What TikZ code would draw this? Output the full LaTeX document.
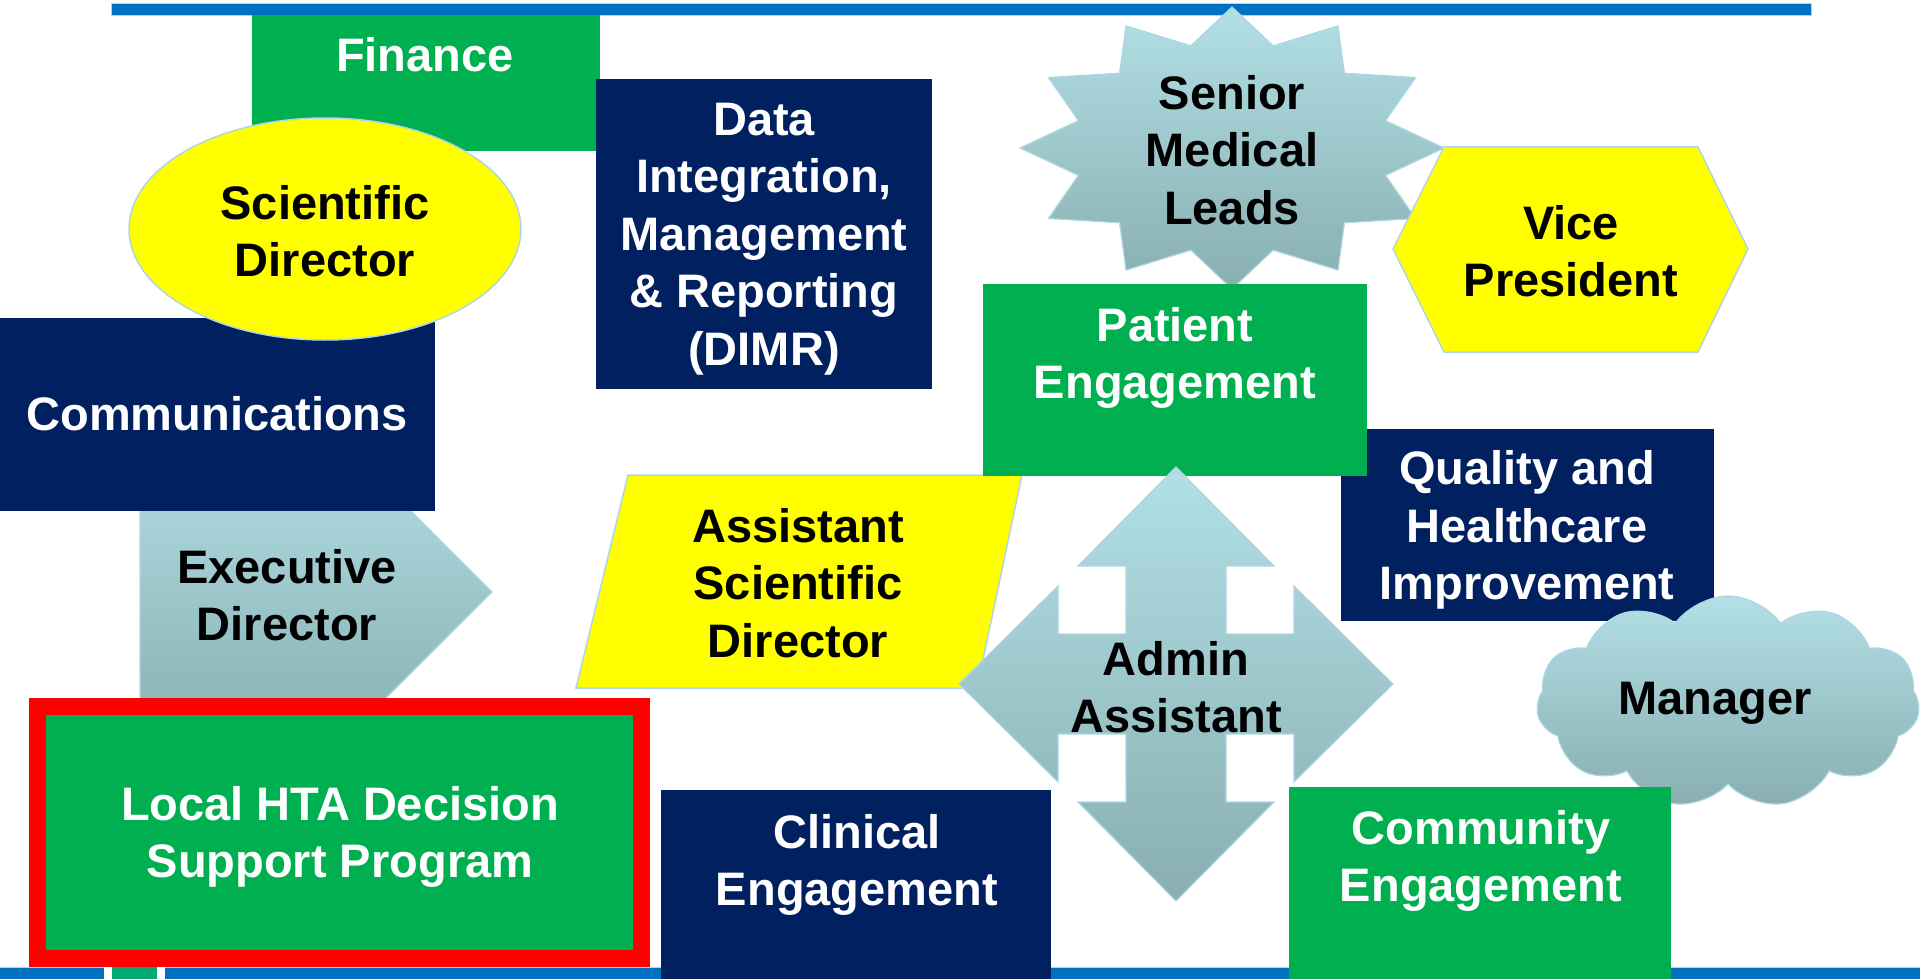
\documentclass[tikz,border=0pt]{standalone}
\usepackage{fontspec}
\setmainfont{Liberation Sans}
\usetikzlibrary{shapes.geometric,shapes.symbols}
\definecolor{cgreen}{RGB}{0,176,80}
\definecolor{cnavy}{RGB}{0,32,96}
\definecolor{cyellow}{RGB}{255,255,0}
\definecolor{cblue}{RGB}{0,112,192}
\definecolor{cedge}{RGB}{176,214,228}
\definecolor{gtop}{RGB}{178,224,230}
\definecolor{gbot}{RGB}{136,174,176}
\definecolor{cred}{RGB}{255,0,0}
\definecolor{clogo}{RGB}{0,170,110}
\begin{document}
\begin{tikzpicture}[x=1pt,y=-1pt,
  lbl/.style={font=\bfseries\fontsize{47}{57.5}\selectfont, align=center, inner sep=0pt},
  wlbl/.style={lbl,text=white},
  klbl/.style={lbl,text=black},
  gbox/.style={fill=cgreen,inner sep=0pt,anchor=north west},
  nbox/.style={fill=cnavy,inner sep=0pt,anchor=north west},
  ybox/.style={fill=cyellow,draw=cedge,line width=1.5pt},
  grad/.style={top color=gtop,bottom color=gbot,draw=cedge,line width=1.2pt},
  bar/.style={fill=cblue,draw=cedge,line width=0.8pt},
]
\useasboundingbox (0,0) rectangle (1920,979);

% top and bottom rules
\path[bar] (111,3) rectangle (1811,15);
\path[bar] (-2,967) rectangle (1922,981);
\fill[white] (104,967) rectangle (165,979);
\fill[clogo] (112,967) rectangle (157,979);

% Finance
\node[gbox,minimum width=348,minimum height=136] (fin) at (252,15) {};
\node[wlbl] (finL) at (425,55) {Finance};

% Data Integration
\node[nbox,minimum width=336,minimum height=310] (dimr) at (596,79) {};
\node[wlbl] (dimrL) at (764,239) {Data\\Integration,\\Management\\\& Reporting\\(DIMR)};

% Executive Director (home plate)
\path[grad] (140,430) -- (330,430) -- (492,592) -- (330,754) -- (140,754) -- cycle;
\node[klbl] (exec) at (287,595) {Executive\\Director};

% Communications
\node[nbox,minimum width=435,minimum height=193] (comm) at (0,318) {};
\node[wlbl] (commL) at (217,414) {Communications};

% Scientific Director
\node[ellipse,ybox,minimum width=392,minimum height=222,inner sep=0pt] (sci) at (325,229) {};
\node[klbl] (sciL) at (325,231) {Scientific\\Director};

% Local HTA
\node[draw=cred,line width=17pt,fill=cgreen,minimum width=604,minimum height=252,inner sep=0pt] (hta) at (339.5,832.5) {};
\node[wlbl] (htaL) at (340,837) {Local HTA Decision\\Support Program};

% Assistant Scientific Director
\path[ybox] (628,475) -- (1022,475) -- (977,688) -- (576,688) -- cycle;
\node[klbl] (asd) at (798,583) {Assistant\\Scientific\\Director};

% Senior Medical Leads (12-point star)
\path[grad] (1444,148)
  \foreach \a/\r in {15/0.75,30/1,45/0.75,60/1,75/0.75,90/1,105/0.75,120/1,135/0.75,150/1,165/0.75,180/1,195/0.75,210/1,225/0.75,240/1,255/0.75,270/1,285/0.75,300/1,315/0.75,330/1,345/0.75}
  { -- ({1232+212*\r*cos(\a)},{148-141*\r*sin(\a)}) } -- cycle;
\node[klbl] (sml) at (1232,150) {Senior\\Medical\\Leads};

% Vice President
\path[ybox] (1393,249) -- (1444,147) -- (1698,147) -- (1748,249) -- (1698,352) -- (1444,352) -- cycle;
\node[klbl] (vp) at (1571,251) {Vice\\President};

% Quality and Healthcare Improvement
\node[nbox,minimum width=373,minimum height=192] (qhi) at (1341,429) {};
\node[wlbl] (qhiL) at (1527,530) {Quality and\\Healthcare\\Improvement};

% Patient Engagement
\node[gbox,minimum width=384,minimum height=192] (pat) at (983,284) {};
\node[wlbl] (patL) at (1175,358) {Patient\\Engagement};

% Admin Assistant (quad arrow)
\path[grad] (1176,467) -- (1274,566) -- (1226,566) -- (1226,634) -- (1294,634) -- (1294,586)
  -- (1393,684) -- (1294,782) -- (1294,734) -- (1226,734) -- (1226,802) -- (1274,802)
  -- (1176,901) -- (1078,802) -- (1126,802) -- (1126,734) -- (1058,734) -- (1058,782)
  -- (959,684) -- (1058,586) -- (1058,634) -- (1126,634) -- (1126,566) -- (1078,566) -- cycle;
\node[klbl] (adm) at (1176,687) {Admin\\Assistant};

% Clinical Engagement
\node[nbox,minimum width=390,minimum height=195] (clin) at (661,790) {};
\node[wlbl] (clinL) at (857,865) {Clinical\\Engagement};

% Manager (cloud)
\node[cloud,cloud puffs=11,cloud puff arc=110,cloud ignores aspect,grad,minimum width=383,minimum height=212,inner sep=0pt] (mgr) at (1728,702) {};
\node[klbl] (mgrL) at (1715,703) {Manager};

% Community Engagement
\node[gbox,minimum width=382,minimum height=198] (comy) at (1289,787) {};
\node[wlbl] (comyL) at (1481,861) {Community\\Engagement};
\end{tikzpicture}
\end{document}
